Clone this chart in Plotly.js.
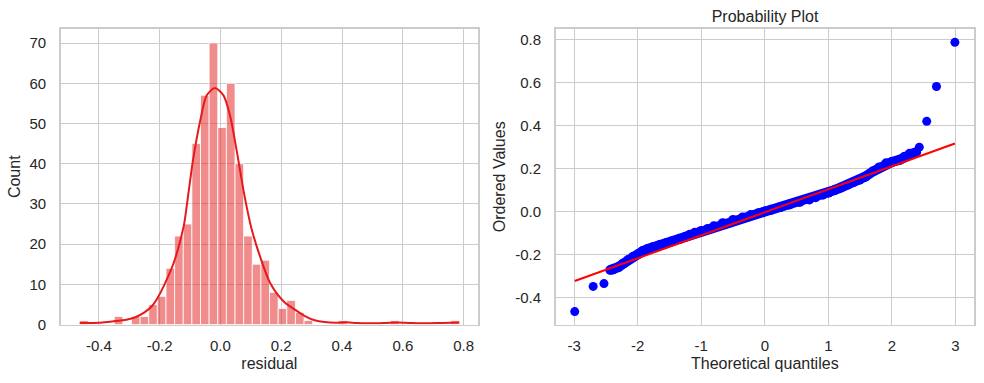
<!DOCTYPE html>
<html>
<head>
<meta charset="utf-8">
<script src="https://cdn.plot.ly/plotly-3.0.1.min.js"></script>
<style>
  html, body { margin: 0; padding: 0; background: #ffffff; }
  #chart { width: 984px; height: 383px; }
</style>
</head>
<body>
<div id="chart"></div>
<script>
// ---------- Histogram of residuals ----------
const binStart = -0.463;
const binWidth = 0.02839;
const binCounts = [1,0,0,0,2,0,2,2,5,7,
                   14,22,25,45,57,70,49,60,40,22,
                   15,16,8,4,6,3,1,0,0,0,
                   1,0,0,0,0,0,1,0,0,0,
                   0,0,0,1];

// KDE curve (scaled to counts)
const kdeX = [-0.463,-0.43,-0.40,-0.37,-0.345,-0.31,-0.28,-0.25,-0.225,-0.207,-0.187,-0.154,-0.121,-0.11,-0.09,-0.067,-0.045,-0.018,0.010,0.032,0.054,0.078,0.103,0.130,0.163,0.21,0.245,0.278,0.31,0.343,0.38,0.41,0.45,0.50,0.545,0.58,0.62,0.675,0.73,0.786];
const kdeY = [0.4,0.35,0.45,0.65,0.85,1.2,1.8,3.0,4.6,6.6,9.5,15.3,24.4,30,41,50.5,57,58.8,57,51.8,43,32.5,23.6,17.0,10.4,5.6,3.7,2.1,1.05,0.6,0.45,0.55,0.4,0.3,0.4,0.5,0.4,0.3,0.4,0.5];

const histXTickVals = [-0.4,-0.2,0.0,0.2,0.4,0.6,0.8];
const histXTickText = ["-0.4","-0.2","0.0","0.2","0.4","0.6","0.8"];
const histYTickVals = [0,10,20,30,40,50,60,70];
const histYTickText = ["0","10","20","30","40","50","60","70"];

// ---------- Probability plot ----------
const bandQ = [-2.43,-2.38,-2.30,-2.23,-2.15,-2.07,-2.00,-1.92,-1.84,-1.76,-1.65,-1.55,-1.45,-1.34,-1.25,-1.18,-1.10,-1.00,-0.90,-0.80,-0.66,-0.50,-0.35,-0.22,-0.10,0.00,0.10,0.25,0.39,0.55,0.70,0.80,0.91,1.00,1.10,1.20,1.30,1.40,1.49,1.58,1.70,1.80,1.91,2.00,2.12,2.20,2.28,2.33,2.38];
const bandV = [-0.272,-0.268,-0.258,-0.243,-0.225,-0.210,-0.200,-0.184,-0.174,-0.166,-0.156,-0.148,-0.138,-0.127,-0.117,-0.108,-0.099,-0.090,-0.081,-0.069,-0.054,-0.040,-0.028,-0.016,-0.008,0.000,0.008,0.021,0.033,0.044,0.056,0.066,0.078,0.087,0.100,0.112,0.124,0.137,0.148,0.162,0.186,0.205,0.224,0.230,0.240,0.255,0.268,0.270,0.275];
const tailQ = [-2.99,-2.70,-2.53,2.43,2.547,2.70,2.99];
const tailV = [-0.465,-0.348,-0.335,0.299,0.419,0.581,0.786];
const fitSlope = 0.1069;
const fitIntercept = -0.0035;
const fitQ = [-2.99, 2.99];

const qqXTickVals = [-3,-2,-1,0,1,2,3];
const qqXTickText = ["-3","-2","-1","0","1","2","3"];
const qqYTickVals = [-0.4,-0.2,0.0,0.2,0.4,0.6,0.8];
const qqYTickText = ["-0.4","-0.2","0.0","0.2","0.4","0.6","0.8"];

// ---------- Build traces ----------
const barX = [], barY = [];
binCounts.forEach((c, i) => {
  if (c > 0) { barX.push(binStart + (i + 0.5) * binWidth); barY.push(c); }
});

const FONT = "Liberation Sans, Arial, Helvetica, sans-serif";
const TXT = "#262626";
const GRID = "#cccccc";

const traces = [
  { type: "bar", x: barX, y: barY, width: binWidth, xaxis: "x", yaxis: "y",
    marker: { color: "rgba(228,26,28,0.5)", line: { color: "#ffffff", width: 0.8 } },
    hoverinfo: "skip" },
  { type: "scatter", mode: "lines", x: kdeX, y: kdeY, xaxis: "x", yaxis: "y",
    line: { color: "#e41a1c", width: 2, shape: "spline", smoothing: 0.8 }, hoverinfo: "skip" },
  { type: "scatter", mode: "lines+markers", x: bandQ, y: bandV, xaxis: "x2", yaxis: "y2",
    line: { color: "#0000ff", width: 10 }, marker: { color: "#0000ff", size: 10 }, hoverinfo: "skip" },
  { type: "scatter", mode: "markers", x: tailQ, y: tailV, xaxis: "x2", yaxis: "y2",
    marker: { color: "#0000ff", size: 9 }, hoverinfo: "skip" },
  { type: "scatter", mode: "lines", x: fitQ, y: fitQ.map(q => fitSlope * q + fitIntercept),
    xaxis: "x2", yaxis: "y2", line: { color: "#ff0000", width: 2 }, hoverinfo: "skip" }
];

function axisBase(extra) {
  return Object.assign({
    showgrid: true, gridcolor: GRID, gridwidth: 1,
    showline: true, linecolor: GRID, linewidth: 1.6, mirror: true,
    zeroline: false, ticks: "", tickmode: "array",
    tickfont: { family: FONT, size: 15, color: TXT },
    fixedrange: true
  }, extra);
}

const yDom = [0.1527, 0.9243];
const layout = {
  width: 984, height: 383,
  margin: { l: 0, r: 0, t: 0, b: 0 },
  paper_bgcolor: "#ffffff", plot_bgcolor: "#ffffff",
  showlegend: false,
  bargap: 0,
  font: { family: FONT, color: TXT },
  title: { text: "Probability Plot", x: 0.7775, xanchor: "center", y: 0.958, yanchor: "middle",
           font: { family: FONT, size: 16, color: TXT } },
  xaxis: axisBase({ domain: [0.0617, 0.4858], range: [-0.5255, 0.8475], anchor: "y",
    tickvals: histXTickVals, ticktext: histXTickText, ticklabelstandoff: 7,
    title: { text: "residual", font: { family: FONT, size: 16, color: TXT }, standoff: 4 } }),
  yaxis: axisBase({ domain: yDom, range: [0, 73.5], anchor: "x",
    tickvals: histYTickVals, ticktext: histYTickText, ticklabelstandoff: 10,
    title: { text: "Count", font: { family: FONT, size: 16, color: TXT }, standoff: 5 } }),
  xaxis2: axisBase({ domain: [0.5647, 0.9898], range: [-3.29, 3.29], anchor: "y2",
    tickvals: qqXTickVals, ticktext: qqXTickText, ticklabelstandoff: 7,
    title: { text: "Theoretical quantiles", font: { family: FONT, size: 16, color: TXT }, standoff: 4 } }),
  yaxis2: axisBase({ domain: yDom, range: [-0.525, 0.848], anchor: "x2",
    tickvals: qqYTickVals, ticktext: qqYTickText, ticklabelstandoff: 10,
    title: { text: "Ordered Values", font: { family: FONT, size: 16, color: TXT }, standoff: 5 } })
};

Plotly.newPlot("chart", traces, layout, { displayModeBar: false, staticPlot: true });
</script>
</body>
</html>
